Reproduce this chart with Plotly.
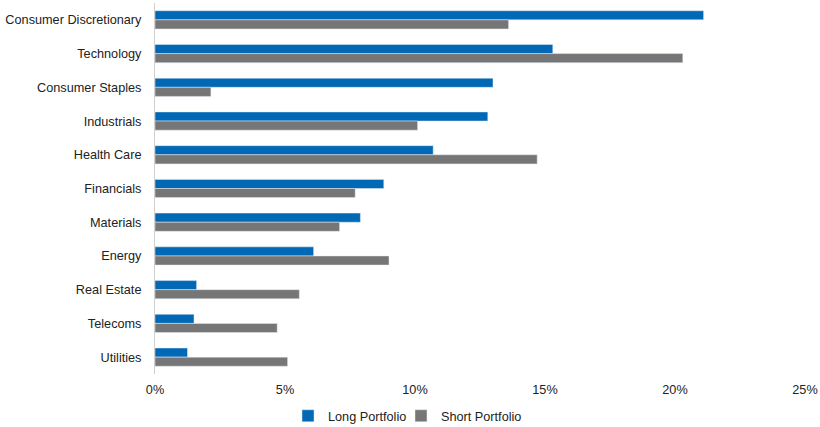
import plotly.graph_objects as go

categories = ["Consumer Discretionary", "Technology", "Consumer Staples", "Industrials",
              "Health Care", "Financials", "Materials", "Energy", "Real Estate",
              "Telecoms", "Utilities"]
long_portfolio = [21.1, 15.3, 13.0, 12.8, 10.7, 8.8, 7.9, 6.1, 1.6, 1.5, 1.25]
short_portfolio = [13.6, 20.3, 2.15, 10.1, 14.7, 7.7, 7.1, 9.0, 5.55, 4.7, 5.1]
tick_vals = [0, 5, 10, 15, 20, 25]
tick_text = ["0%", "5%", "10%", "15%", "20%", "25%"]

fig = go.Figure()
fig.add_trace(go.Bar(y=categories, x=long_portfolio, orientation="h",
                     name="Long Portfolio", marker=dict(color="#0068B5"),
                     legend="legend"))
fig.add_trace(go.Bar(y=categories, x=short_portfolio, orientation="h",
                     name="Short Portfolio", marker=dict(color="#767676"),
                     legend="legend2"))

leg_common = dict(orientation="h", xanchor="left", xref="container", yref="container",
                  y=(427 - 416) / 427, yanchor="middle", font=dict(size=12.7),
                  bgcolor="rgba(0,0,0,0)")

fig.update_layout(
    width=820, height=427,
    margin=dict(l=155, r=15, t=3, b=53, autoexpand=False),
    barmode="group", bargap=0.46, bargroupgap=0,
    plot_bgcolor="white", paper_bgcolor="white",
    font=dict(family="Liberation Sans, Arial, sans-serif", size=12.7, color="#222222"),
    xaxis=dict(range=[0, 25], tickvals=tick_vals, ticktext=tick_text,
               showgrid=False, zeroline=False, showline=False, ticks="",
               ticklabelstandoff=6, automargin=False),
    yaxis=dict(autorange="reversed", showgrid=False, showline=True,
               linecolor="#d0d0d0", linewidth=1, ticks="", ticklabelstandoff=10,
               automargin=False),
    legend=dict(x=288 / 820, **leg_common),
    legend2=dict(x=401 / 820, **leg_common),
    showlegend=True,
)

fig.write_html("out.html")
